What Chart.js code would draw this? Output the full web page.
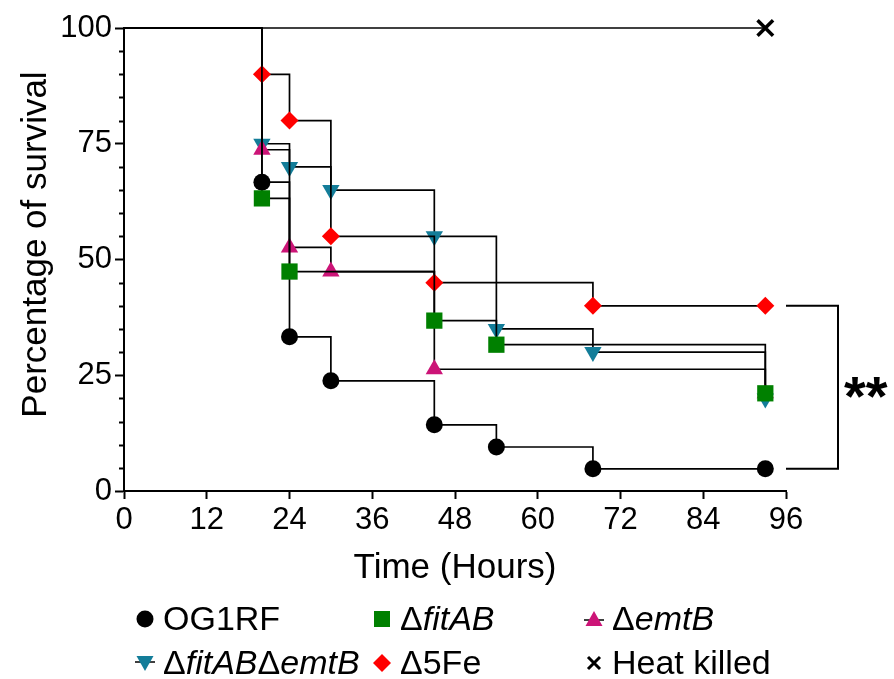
<!DOCTYPE html>
<html><head><meta charset="utf-8">
<script src="https://cdn.jsdelivr.net/npm/chart.js@4.4.0/dist/chart.umd.min.js"></script>
<style>
html,body{margin:0;padding:0;background:#fff;}
#wrap{position:relative;width:894px;height:679px;overflow:hidden;}
canvas{position:absolute;left:0;top:0;}
.leg{position:absolute;font-family:"Liberation Sans",Arial,sans-serif;font-size:34px;color:#000;white-space:nowrap;line-height:34px;height:34px;}
.leg svg{position:absolute;top:6px;left:0;}
.leg span.t{position:absolute;top:0;}
</style></head>
<body><div id="wrap"><canvas id="c" width="894" height="679"></canvas><div id="legend"></div></div>
<script>
// ---- data ----
const og1rfTimes = [0, 20, 24, 30, 45, 54, 68, 93];
const og1rfSurvival = [100, 66.7, 33.3, 23.8, 14.3, 9.5, 4.8, 4.8];
const fitABTimes = [0, 20, 24, 45, 54, 93];
const fitABSurvival = [100, 63.2, 47.4, 36.8, 31.6, 21.1];
const emtBTimes = [0, 20, 24, 30, 45, 93];
const emtBSurvival = [100, 73.7, 52.6, 47.4, 26.3, 21.1];
const fitABemtBTimes = [0, 20, 24, 30, 45, 54, 68, 93];
const fitABemtBSurvival = [100, 75, 70, 65, 55, 35, 30, 20];
const fe5Times = [0, 20, 24, 30, 45, 68, 93];
const fe5Survival = [100, 90, 80, 55, 45, 40, 40];
const heatTimes = [0, 93];
const heatSurvival = [100, 100];
const xTickValues = [0, 12, 24, 36, 48, 60, 72, 84, 96];
const yTickValues = [0, 25, 50, 75, 100];
const xTitle = 'Time (Hours)';
const yTitle = 'Percentage of survival';
const sigLabel = '**';
const sigTop = 40, sigBottom = 4.8;
// legend labels: segments [text, italic]
const legendLabels = [
  [['OG1RF', false]],
  [['Δ', false], ['fitAB', true]],
  [['Δ', false], ['emtB', true]],
  [['Δ', false], ['fitAB', true], ['Δ', false], ['emtB', true]],
  [['Δ5Fe', false]],
  [['Heat killed', false]]
];

const FONT = '"Liberation Sans", Arial, sans-serif';
const colors = ['#000000', '#008000', '#cc1477', '#137d99', '#ff0000', '#000000'];
const styles = ['circle', 'rect', 'triangle', 'triangle', 'rectRot', 'crossRot'];
const rots = [0, 0, 0, 180, 0, 0];
const radii = [8.5, 11.5, 10, 10, 9, 11];
const allTimes = [og1rfTimes, fitABTimes, emtBTimes, fitABemtBTimes, fe5Times, heatTimes];
const allSurv = [og1rfSurvival, fitABSurvival, emtBSurvival, fitABemtBSurvival, fe5Survival, heatSurvival];
const orders = [2, 0, 3, 4, 1, 5];

const datasets = allTimes.map((ts, k) => ({
  label: legendLabels[k].map(s => s[0]).join(''),
  data: ts.map((t, i) => ({x: t, y: allSurv[k][i]})),
  stepped: 'before',
  borderColor: '#000',
  borderWidth: 1.7,
  pointStyle: styles[k],
  pointRotation: rots[k],
  pointRadius: ts.map((t, i) => i === 0 ? 0 : radii[k]),
  pointHoverRadius: ts.map((t, i) => i === 0 ? 0 : radii[k]),
  pointBackgroundColor: colors[k],
  pointBorderColor: colors[k],
  pointBorderWidth: k === 5 ? 3.5 : 0,
  clip: false,
  order: orders[k]
}));

const extras = {
  id: 'extras',
  afterDraw(chart) {
    const ctx = chart.ctx, x = chart.scales.x, y = chart.scales.y, a = chart.chartArea;
    ctx.save();
    ctx.strokeStyle = '#000'; ctx.lineWidth = 2;
    // minor y ticks
    for (let v = 5; v < 100; v += 5) {
      if (v % 25 === 0) continue;
      const py = Math.round(y.getPixelForValue(v)) + 0.5;
      ctx.beginPath(); ctx.moveTo(a.left - 5, py); ctx.lineTo(a.left, py); ctx.stroke();
    }
    // significance bracket
    const y1 = y.getPixelForValue(sigTop), y2 = y.getPixelForValue(sigBottom);
    const x0 = a.right, x1 = a.right + 52;
    ctx.beginPath();
    ctx.moveTo(x0, y1); ctx.lineTo(x1, y1); ctx.lineTo(x1, y2); ctx.lineTo(x0, y2);
    ctx.stroke();
    ctx.fillStyle = '#000';
    ctx.font = 'bold 56px ' + FONT;
    ctx.textAlign = 'left'; ctx.textBaseline = 'middle';
    ctx.fillText(sigLabel, x1 + 6, (y1 + y2) / 2 + 12);
    // y axis title
    ctx.font = '35px ' + FONT;
    ctx.textAlign = 'center'; ctx.textBaseline = 'middle';
    ctx.translate(36, (a.top + a.bottom) / 2 - 15);
    ctx.rotate(-Math.PI / 2);
    ctx.fillText(yTitle, 0, 0);
    ctx.restore();
  }
};

new Chart(document.getElementById('c'), {
  type: 'line',
  data: {datasets},
  options: {
    responsive: false,
    animation: false,
    devicePixelRatio: 1,
    layout: {padding: {left: 0, top: 28, right: 108, bottom: 88}},
    plugins: {legend: {display: false}, tooltip: {enabled: false}},
    scales: {
      x: {
        type: 'linear', min: 0, max: 96,
        afterBuildTicks: s => { s.ticks = xTickValues.map(v => ({value: v})); },
        afterFit: s => { s.height = 100; },
        grid: {drawOnChartArea: false, drawTicks: true, tickLength: 8, tickColor: '#000', tickWidth: 2},
        border: {display: true, color: '#000', width: 2},
        ticks: {color: '#000', font: {family: FONT, size: 31}, padding: 3, maxRotation: 0, autoSkip: false},
        title: {display: true, text: xTitle, color: '#000', font: {family: FONT, size: 35}, padding: {top: 0, bottom: 2}}
      },
      y: {
        type: 'linear', min: 0, max: 100,
        afterBuildTicks: s => { s.ticks = yTickValues.map(v => ({value: v})); },
        afterFit: s => { s.width = 124; },
        grid: {drawOnChartArea: false, drawTicks: true, tickLength: 9, tickColor: '#000', tickWidth: 2},
        border: {display: true, color: '#000', width: 2},
        ticks: {color: '#000', font: {family: FONT, size: 31}, padding: 3},
        title: {display: false, text: yTitle}
      }
    }
  },
  plugins: [extras]
});

// HTML legend
const legPos = [[134, 601], [371, 601], [583, 601], [134, 645], [371, 645], [583, 645]];
const svgFor = (k) => {
  const c = colors[k];
  let shape = '';
  if (k === 0) shape = `<circle cx="11" cy="12" r="8.5" fill="${c}"/>`;
  if (k === 1) shape = `<rect x="3" y="4" width="16" height="16" fill="${c}"/>`;
  if (k === 2) shape = `<line x1="1" y1="13" x2="21" y2="13" stroke="#000" stroke-width="1.5"/><polygon points="11,4 19.5,19 2.5,19" fill="${c}"/>`;
  if (k === 3) shape = `<line x1="1" y1="11" x2="21" y2="11" stroke="#000" stroke-width="1.5"/><polygon points="2.5,5 19.5,5 11,20" fill="${c}"/>`;
  if (k === 4) shape = `<polygon points="11,3 20,12 11,21 2,12" fill="${c}"/>`;
  if (k === 5) shape = `<path d="M5 6 L17 18 M17 6 L5 18" stroke="${c}" stroke-width="3"/>`;
  return `<svg width="22" height="24" viewBox="0 0 22 24">${shape}</svg>`;
};
const legendEl = document.getElementById('legend');
legendLabels.forEach((segs, k) => {
  const d = document.createElement('div');
  d.className = 'leg';
  d.style.left = legPos[k][0] + 'px';
  d.style.top = legPos[k][1] + 'px';
  const txt = segs.map(s => s[1] ? `<i>${s[0]}</i>` : s[0]).join('');
  d.innerHTML = svgFor(k) + `<span class="t" style="left:29px">${txt}</span>`;
  legendEl.appendChild(d);
});
</script>
</body></html>
